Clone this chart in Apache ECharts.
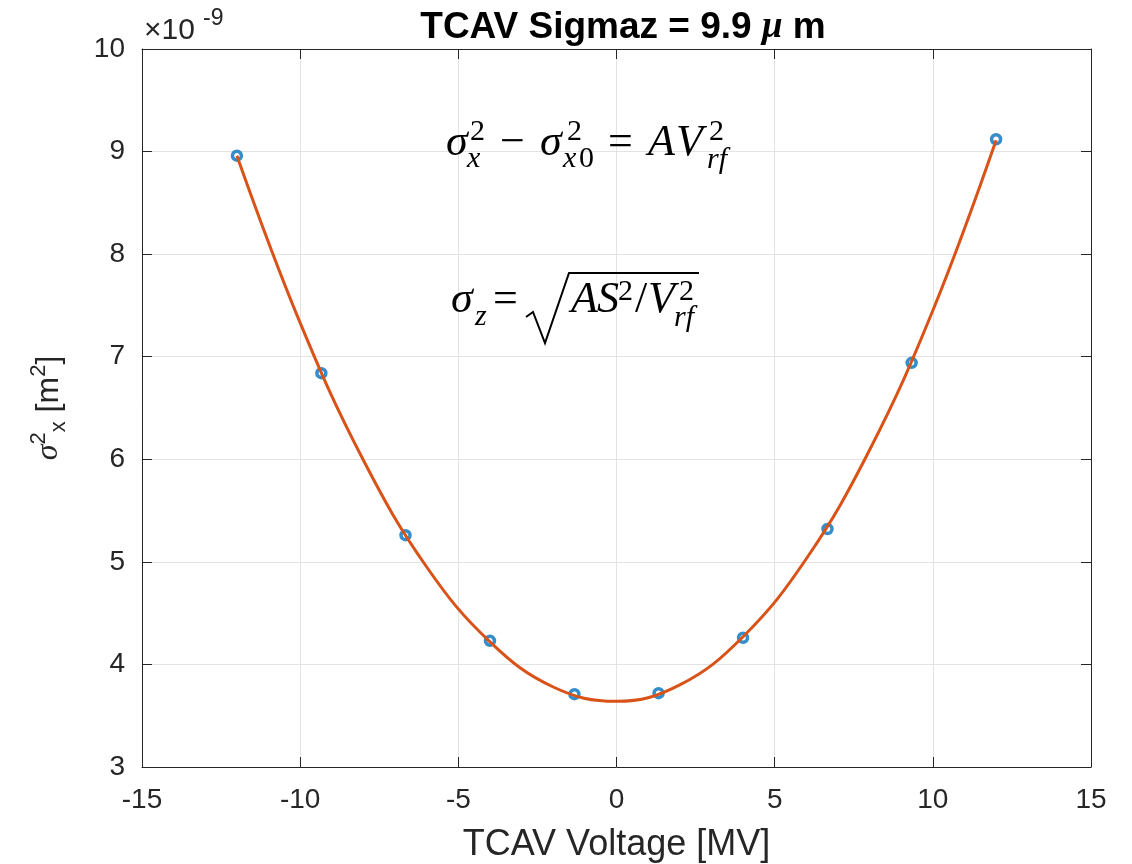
<!DOCTYPE html>
<html>
<head>
<meta charset="utf-8">
<script src="https://cdn.jsdelivr.net/npm/echarts@6/dist/echarts.min.js"></script>
<style>
  html, body { margin: 0; padding: 0; background: #fff; }
  #chart { width: 1132px; height: 864px; }
</style>
</head>
<body>
<div id="chart"></div>
<script>
// measured points (y in units of 1e-9 m^2)
const voltages = [-12, -9.33, -6.67, -4, -1.33, 1.33, 4, 6.67, 9.33, 12]
const sigmaSq = [8.96, 6.84, 5.26, 4.23, 3.71, 3.72, 4.26, 5.32, 6.94, 9.12]

// fitted curve
const fitVoltages = [-12, -10, -8, -6, -4, -2, 0, 2, 4, 6, 8, 10, 12]
const fitSigmaSq = [8.96, 7.33, 5.99, 4.95, 4.22, 3.78, 3.64, 3.80, 4.27, 5.03, 6.09, 7.45, 9.11]

const xTicks = { min: -15, max: 15, interval: 5 }
const yTicks = { min: 3, max: 10, interval: 1 }

const SANS = "Liberation Sans, Arial, sans-serif"
const SERIF = "Liberation Serif, Times New Roman, serif"
const INK = "#262626"

const chart = echarts.init(document.getElementById("chart"), null, { renderer: "canvas" })

// place formula glyphs by their baseline (canvas "middle" sits ~0.34em above it)
function glyphs(list) {
  return list.map((p) => {
    const size = p.size || 44
    return {
      type: "text",
      x: p.x,
      y: p.b - 0.34 * size,
      z: 100,
      style: {
        text: p.t,
        font: `${p.up ? "" : "italic "}${size}px ${SERIF}`,
        fill: "#000",
        align: "left",
        verticalAlign: "middle"
      }
    }
  })
}

const formulaOne = glyphs([
  { t: "σ", x: 446, b: 158 },
  { t: "2", x: 470, b: 142, size: 30, up: true },
  { t: "x", x: 467, b: 169, size: 30 },
  { t: "−", x: 500, b: 158, up: true },
  { t: "σ", x: 540, b: 158 },
  { t: "2", x: 567, b: 142, size: 30, up: true },
  { t: "x", x: 563, b: 169, size: 30 },
  { t: "0", x: 579, b: 169, size: 30, up: true },
  { t: "=", x: 608, b: 158, up: true },
  { t: "A", x: 648, b: 158 },
  { t: "V", x: 676, b: 158 },
  { t: "2", x: 709, b: 142, size: 30, up: true },
  { t: "rf", x: 707, b: 170, size: 30 }
])

const formulaTwo = glyphs([
  { t: "σ", x: 451, b: 315 },
  { t: "z", x: 475, b: 327, size: 30 },
  { t: "=", x: 493, b: 315, up: true },
  { t: "A", x: 571, b: 315 },
  { t: "S", x: 597, b: 315 },
  { t: "2", x: 618, b: 302, size: 30, up: true },
  { t: "/", x: 635, b: 315, up: true },
  { t: "V", x: 648, b: 315 },
  { t: "2", x: 679, b: 302, size: 30, up: true },
  { t: "rf", x: 674, b: 328, size: 30 }
])

chart.setOption({
  backgroundColor: "#fff",
  animation: false,
  title: {
    text: "{b|TCAV Sigmaz = 9.9 }{mu|μ}{b| m}",
    left: 618,
    top: 4,
    textAlign: "center",
    textStyle: {
      rich: {
        b: { fontFamily: SANS, fontWeight: "bold", fontSize: 37, color: "#000" },
        mu: { fontFamily: SERIF, fontStyle: "italic", fontSize: 37, color: "#000" }
      }
    }
  },
  grid: { left: 142, right: 41, top: 49, bottom: 97, containLabel: false, outerBoundsMode: "none" },
  xAxis: [
    {
      type: "value",
      position: "bottom",
      ...xTicks,
      name: "TCAV Voltage [MV]",
      nameLocation: "middle",
      nameGap: 60,
      nameTextStyle: { fontFamily: SANS, fontSize: 36, color: INK },
      axisLine: { show: true, onZero: false, lineStyle: { color: INK, width: 1 } },
      axisTick: { show: true, inside: true, length: 10, lineStyle: { color: INK } },
      axisLabel: { fontFamily: SANS, fontSize: 28, color: INK, margin: 19 },
      splitLine: { show: true, lineStyle: { color: "#e3e3e3", width: 1 } }
    },
    {
      type: "value",
      position: "top",
      ...xTicks,
      axisLine: { show: true, onZero: false, lineStyle: { color: INK, width: 1 } },
      axisTick: { show: true, inside: true, length: 10, lineStyle: { color: INK } },
      axisLabel: { show: false },
      splitLine: { show: false }
    }
  ],
  yAxis: [
    {
      type: "value",
      position: "left",
      ...yTicks,
      name: "{s|σ}{sup|2}{sub|x}{n| [m}{sup|2}{n|]}",
      nameLocation: "middle",
      nameGap: 72,
      nameRotate: 90,
      nameTextStyle: {
        color: INK,
        rich: {
          s: { fontFamily: SERIF, fontStyle: "italic", fontSize: 32, color: INK, lineHeight: 42, verticalAlign: "middle" },
          n: { fontFamily: SANS, fontSize: 32, color: INK, lineHeight: 42, verticalAlign: "middle" },
          sup: { fontFamily: SANS, fontSize: 22, color: INK, lineHeight: 42, verticalAlign: "top" },
          sub: { fontFamily: SANS, fontSize: 22, color: INK, lineHeight: 42, verticalAlign: "bottom" }
        }
      },
      axisLine: { show: true, onZero: false, lineStyle: { color: INK, width: 1 } },
      axisTick: { show: true, inside: true, length: 10, lineStyle: { color: INK } },
      axisLabel: { fontFamily: SANS, fontSize: 28, color: INK, margin: 17 },
      splitLine: { show: true, lineStyle: { color: "#e3e3e3", width: 1 } }
    },
    {
      type: "value",
      position: "right",
      ...yTicks,
      axisLine: { show: true, onZero: false, lineStyle: { color: INK, width: 1 } },
      axisTick: { show: true, inside: true, length: 10, lineStyle: { color: INK } },
      axisLabel: { show: false },
      splitLine: { show: false }
    }
  ],
  series: [
    {
      type: "scatter",
      data: voltages.map((v, i) => [v, sigmaSq[i]]),
      symbol: "circle",
      symbolSize: 9,
      itemStyle: { color: "#fff", borderColor: "#0072BD", borderWidth: 3.5 },
      z: 2
    },
    {
      type: "line",
      data: fitVoltages.map((v, i) => [v, fitSigmaSq[i]]),
      smooth: 0.4,
      showSymbol: false,
      lineStyle: { color: "#D95319", width: 3 },
      z: 3
    }
  ],
  graphic: [
    {
      type: "text",
      x: 144,
      y: 41 - 0.35 * 30,
      style: { text: "×10", font: `30px ${SANS}`, fill: INK, verticalAlign: "middle" }
    },
    {
      type: "text",
      x: 203,
      y: 27 - 0.35 * 23,
      style: { text: "-9", font: `23px ${SANS}`, fill: INK, verticalAlign: "middle" }
    },
    ...formulaOne,
    ...formulaTwo,
    {
      type: "polyline",
      z: 100,
      shape: { points: [[526, 317], [533, 312], [545, 343], [569, 273], [699, 273]] },
      style: { stroke: "#000", lineWidth: 2, fill: null }
    }
  ]
})
</script>
</body>
</html>
